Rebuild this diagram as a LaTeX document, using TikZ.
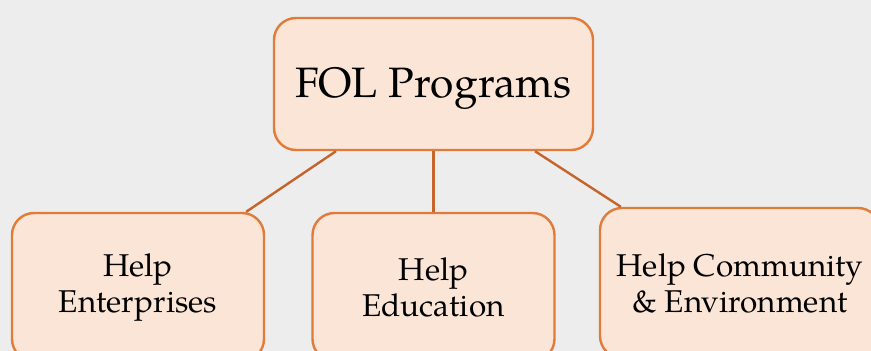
\documentclass[tikz,border=0pt]{standalone}
\usepackage{fontspec}
\setmainfont{TeX Gyre Pagella}
\usetikzlibrary{calc}
\definecolor{bgc}{HTML}{EDEDED}
\definecolor{boxfill}{HTML}{FBE5D6}
\definecolor{boxline}{HTML}{E07B39}
\definecolor{linkc}{HTML}{C5652B}
\tikzset{
  topbox/.style={draw=boxline, fill=boxfill, line width=2.4pt, rounded corners=22pt,
    minimum width=319pt, minimum height=132pt, inner sep=0pt, align=center,
    text height=39pt, text depth=11.5pt,
    font=\fontsize{42.5}{50}\selectfont},
  subbox/.style={draw=boxline, fill=boxfill, line width=2.4pt, rounded corners=22pt,
    minimum height=148pt, inner sep=0pt, align=center,
    font=\fontsize{31.5}{36}\selectfont},
  link/.style={draw=linkc, line width=2.4pt}
}
\begin{document}
\begin{tikzpicture}[x=1pt,y=-1pt]
\useasboundingbox (0,0) rectangle (871,351);
\clip (0,0) rectangle (871,351);
\fill[bgc] (0,0) rectangle (871,351);
\node[topbox] (top) at (433.5,84) {FOL Programs};
\node[subbox, minimum width=252pt] (L) at (138,287) {Help\\Enterprises};
\node[subbox, minimum width=242pt] (M) at (433.5,287) {Help\\Education};
\node[subbox, minimum width=280pt, minimum height=150pt] (R) at (740,283) {Help Community\\\& Environment};
\draw[link] ($(top.south)+(-97.5,0)$) -- ($(L.north east)+(-19,0)$);
\draw[link] (top.south) -- (M.north);
\draw[link] ($(top.south)+(101.5,0)$) -- ($(R.north west)+(22,0)$);
\end{tikzpicture}
\end{document}
